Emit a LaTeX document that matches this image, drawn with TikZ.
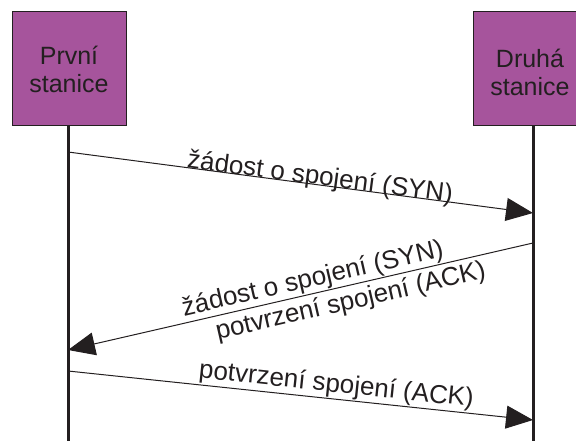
\documentclass[tikz,border=0pt]{standalone}
\usepackage{fontspec}
\setmainfont{Liberation Sans}
\usetikzlibrary{arrows.meta}

\definecolor{stationfill}{RGB}{166,84,156}
\definecolor{inkgray}{RGB}{35,31,32}

\tikzset{
  station/.style={draw=inkgray, line width=1pt, fill=stationfill, minimum width=114pt,
    minimum height=114pt, inner sep=0pt, align=center, text=inkgray,
    font=\fontsize{25}{28}\selectfont},
  lifeline/.style={draw=inkgray, line width=3pt},
  message/.style={draw=inkgray, line width=1pt},
  msgtext/.style={sloped, inner sep=1pt, text=inkgray, font=\fontsize{26}{29}\selectfont}
}

\begin{document}
\begin{tikzpicture}[x=1pt, y=-1pt, >={Triangle[length=27pt,width=23pt]}]
\useasboundingbox (0,0) rectangle (576,441);
\node[station] (prvni) at (69,69) {První\\stanice};
\node[station, text height=54pt] (druha) at (530,69) {Druhá\\stanice};
\coordinate (prvniend) at (68,441);
\coordinate (druhaend) at (533,441);
\draw[lifeline] (prvni.south -| prvniend) -- (prvniend);
\draw[lifeline] (druha.south -| druhaend) -- (druhaend);
\coordinate (syn1) at (68,152);
\coordinate (syn2) at (533,213);
\coordinate (synack1) at (68,350);
\coordinate (synack2) at (533,243);
\coordinate (ack1) at (68,371);
\coordinate (ack2) at (533,420);
\draw[message, ->] (syn1) -- node[msgtext, anchor=base, pos=0.54] {žádost o spojení (SYN)} (syn2);
\draw[message, <-] (synack1) -- node[msgtext, anchor=base, yshift=7pt, pos=0.533] {žádost o spojení (SYN)}
  node[msgtext, below, yshift=-3pt, pos=0.6] {potvrzení spojení (ACK)} (synack2);
\draw[message, ->] (ack1) -- node[msgtext, above, pos=0.574] {potvrzení spojení (ACK)} (ack2);
\end{tikzpicture}
\end{document}
